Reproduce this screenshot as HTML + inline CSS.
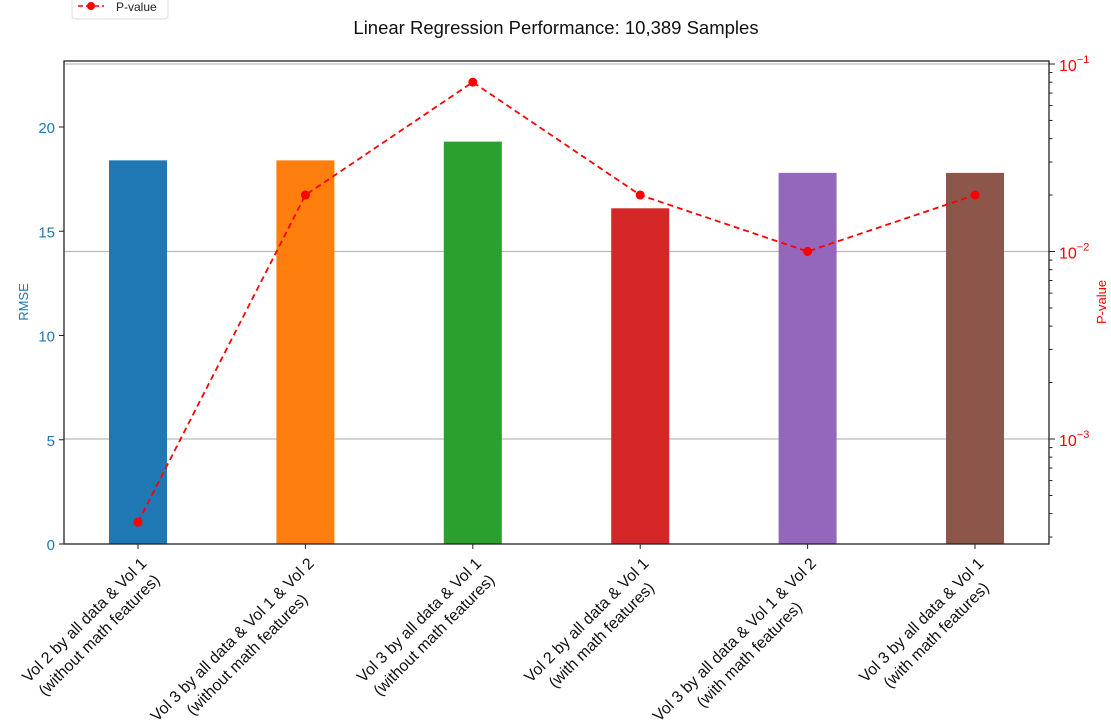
<!DOCTYPE html>
<html><head><meta charset="utf-8"><style>
body{margin:0;background:#fff;}
svg{display:block;font-family:"Liberation Sans",sans-serif;}
</style></head><body>
<svg id="chart" width="1111" height="727" xmlns="http://www.w3.org/2000/svg">
<text x="556" y="34" text-anchor="middle" font-size="18.5" fill="#111">Linear Regression Performance: 10,389 Samples</text>
<g id="grid"></g><g id="bars"></g><g id="line"></g>
<rect x="64" y="61" width="985" height="483" fill="none" stroke="#222" stroke-width="1.3"/>
<g id="laxis"></g><g id="raxis"></g><g id="xaxis"></g>
<text transform="translate(28,302) rotate(-90)" text-anchor="middle" font-size="13" fill="#1f77b4">RMSE</text>
<text transform="translate(1106,302) rotate(-90)" text-anchor="middle" font-size="13" fill="red">P-value</text>
<g>
<rect x="72" y="-10" width="96" height="29" rx="3" fill="#fff" stroke="#ddd"/>
<line x1="78" y1="6" x2="104" y2="6" stroke="red" stroke-width="1.6" stroke-dasharray="5,3"/>
<circle cx="91" cy="6" r="4" fill="red"/>
<text x="116" y="11" font-size="12" fill="#222">P-value</text>
</g>
</svg>
<script>
const categories=[["Vol 2 by all data & Vol 1","(without math features)"],["Vol 3 by all data & Vol 1 & Vol 2","(without math features)"],["Vol 3 by all data & Vol 1","(without math features)"],["Vol 2 by all data & Vol 1","(with math features)"],["Vol 3 by all data & Vol 1 & Vol 2","(with math features)"],["Vol 3 by all data & Vol 1","(with math features)"]];
const rmse=[18.4,18.4,19.3,16.1,17.8,17.8];
const pvalues=[0.00036,0.02,0.08,0.02,0.01,0.02];
const leftTicks=[0,5,10,15,20];
const rightTicks=[-3,-2,-1];
const colors=["#1f77b4","#ff7f0e","#2ca02c","#d62728","#9467bd","#8c564b"];
const NS="http://www.w3.org/2000/svg";
const L=64,R=1049,T=61,B=544;
function xs(i){return 138+i*(975-138)/(categories.length-1);}
function yl(v){return B-v*20.85;}
function yr(p){return 64+(-1-Math.log10(p))*187.5;}
function mk(tag,attrs,parent){const e=document.createElementNS(NS,tag);for(const k in attrs)e.setAttribute(k,attrs[k]);document.getElementById(parent).appendChild(e);return e;}
rightTicks.forEach(e=>{const g=mk('line',{x1:L,x2:R,y1:yr(Math.pow(10,e)),y2:yr(Math.pow(10,e)),stroke:'#bbb','stroke-width':1.2},'grid');

});
rmse.forEach((v,i)=>{const r=mk('rect',{x:xs(i)-29,y:yl(v),width:58,height:B-yl(v),fill:colors[i]},'bars');

});
const pts=pvalues.map((p,i)=>xs(i)+','+yr(p)).join(' ');
const pl=mk('polyline',{points:pts,fill:'none',stroke:'red','stroke-width':1.8,'stroke-dasharray':'6,4'},'line');


pvalues.forEach((p,i)=>{const c=mk('circle',{cx:xs(i),cy:yr(p),r:4.5,fill:'red'},'line');

});
leftTicks.forEach(v=>{mk('line',{x1:L-5,x2:L,y1:yl(v),y2:yl(v),stroke:'#222'},'laxis');
const t=mk('text',{x:L-9,y:yl(v)+6,'text-anchor':'end','font-size':15,fill:'#1f77b4'},'laxis');t.textContent=v;

});
for(let e=-4;e<=-1;e++){for(let m=1;m<10;m++){const p=m*Math.pow(10,e);const y=yr(p);if(y<T-1||y>B)continue;
mk('line',{x1:R,x2:R+(m==1?6:3.5),y1:y,y2:y,stroke:'#222'},'raxis');}}
rightTicks.forEach(e=>{const y=yr(Math.pow(10,e));const t=mk('text',{x:R+10,y:y+7,'font-size':16,fill:'red'},'raxis');
t.innerHTML='10<tspan dy="-8" font-size="11">\u2212'+(-e)+'</tspan>';

});
categories.forEach((c,i)=>{const x=xs(i);mk('line',{x1:x,x2:x,y1:B,y2:B+5,stroke:'#222'},'xaxis');
const g=mk('g',{transform:'translate('+(x+1)+',556) rotate(-45)'},'xaxis');


const ts=c.map((s,j)=>{const t=document.createElementNS(NS,'text');t.setAttribute('x',0);t.setAttribute('y',12+j*21);t.setAttribute('text-anchor','end');t.setAttribute('font-size','16');t.setAttribute('fill','#111');t.textContent=s;g.appendChild(t);return t;});
const w=ts.map(t=>t.getComputedTextLength());const mx=Math.max(...w);
ts.forEach((t,j)=>t.setAttribute('x',-(mx-w[j])/2));});
</script>
</body></html>
